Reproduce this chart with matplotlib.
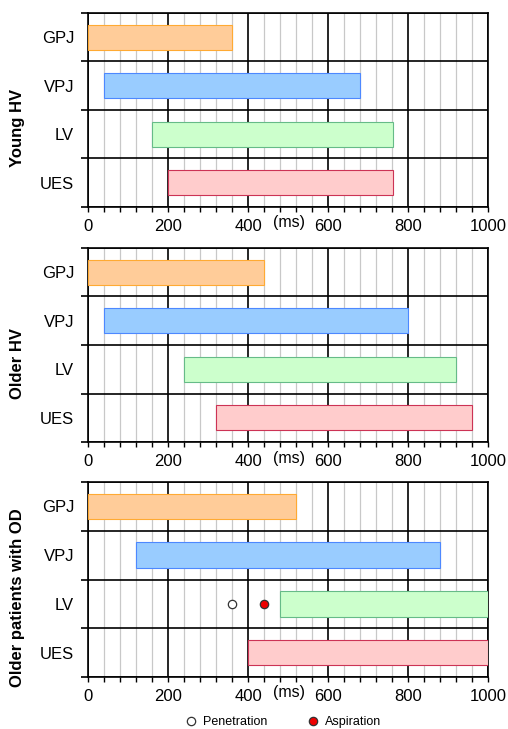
import matplotlib
matplotlib.use('Agg')
import matplotlib.pyplot as plt
from matplotlib.lines import Line2D
import numpy as np

plt.rcParams['font.family'] = ['Liberation Sans', 'DejaVu Sans']

groups = ['Young HV', 'Older HV', 'Older patients with OD']
structures = ['GPJ', 'VPJ', 'LV', 'UES']

# opening / closing time of each structure (ms)
young_start = [0, 40, 160, 200]
young_end = [360, 680, 763, 763]
older_start = [0, 40, 240, 320]
older_end = [440, 800, 920, 960]
od_start = [0, 120, 480, 400]
od_end = [520, 880, 1000, 1000]

# bolus events in the OD group (LV row)
penetration_ms = [360]
aspiration_ms = [440]

fill_colors = ['#FFCC99', '#99CCFF', '#CCFFCC', '#FFCCCC']
edge_colors = ['#FFAA33', '#4D88FF', '#66BB88', '#CC3355']

starts = [young_start, older_start, od_start]
ends = [young_end, older_end, od_end]

W, H = 508, 729
fig = plt.figure(figsize=(W / 100, H / 100), dpi=100)

# panel tops / bottoms in pixels from the top of the figure
panel_px = [(13, 207), (248, 442), (482, 677)]
left_px, right_px = 88, 488

row_centers = 3.5 - np.arange(len(structures))

axes = []
for k, (top, bot) in enumerate(panel_px):
    ax = fig.add_axes([left_px / W, 1 - bot / H, (right_px - left_px) / W, (bot - top) / H])
    axes.append(ax)

    widths = np.array(ends[k]) - np.array(starts[k])
    ax.barh(row_centers, widths, left=starts[k], height=0.52,
            color=fill_colors, edgecolor=edge_colors, linewidth=0.8, zorder=3)

    ax.set_xlim(0, 1000)
    ax.set_ylim(0, 4)

    ax.set_xticks(np.arange(0, 1001, 200))
    ax.set_xticks(np.arange(0, 1001, 40), minor=True)
    ax.set_yticks(np.arange(0, 5, 1))
    ax.set_yticklabels([])
    ax.set_yticks(row_centers, minor=True)
    ax.set_yticklabels(structures, minor=True)

    ax.grid(which='minor', axis='x', color='#c8c8c8', linewidth=0.9)
    ax.grid(which='major', axis='x', color='black', linewidth=1.2)
    ax.grid(which='major', axis='y', color='black', linewidth=1.2)

    ax.tick_params(axis='x', which='both', direction='out', length=3.5, width=1.0,
                   labelsize=12, pad=5)
    ax.tick_params(axis='y', which='major', direction='out', length=5, width=1.2)
    ax.tick_params(axis='y', which='minor', length=0, pad=10, labelsize=12)

    for s in ax.spines.values():
        s.set_linewidth(1.2)

    ax.annotate('(ms)', xy=(502, 0), xycoords=('data', 'axes fraction'),
                xytext=(0, -16), textcoords='offset pixels',
                ha='center', va='center', fontsize=11.5)

    fig.text(18 / W, 1 - ((top + bot) / 2 + 18) / H, groups[k], rotation=90,
             fontsize=12, fontweight='bold', ha='center', va='center')

ax = axes[2]
ax.plot(penetration_ms, [row_centers[2]] * len(penetration_ms), 'o',
        mfc='white', mec='#333333', ms=6, mew=0.9, zorder=4)
ax.plot(aspiration_ms, [row_centers[2]] * len(aspiration_ms), 'o',
        mfc='#EE0000', mec='#333333', ms=6, mew=0.9, zorder=4)

handles = [Line2D([], [], ls='', marker='o', mfc='white', mec='#333333', ms=6, mew=0.9),
           Line2D([], [], ls='', marker='o', mfc='#EE0000', mec='#333333', ms=6, mew=0.9)]
fig.legend(handles, ['Penetration', 'Aspiration'], loc='center',
           bbox_to_anchor=(283 / W, 7 / H), ncol=2, frameon=False, fontsize=9,
           handlelength=1, handletextpad=0.4, columnspacing=3.2)

fig.savefig('out.png', dpi=100)
